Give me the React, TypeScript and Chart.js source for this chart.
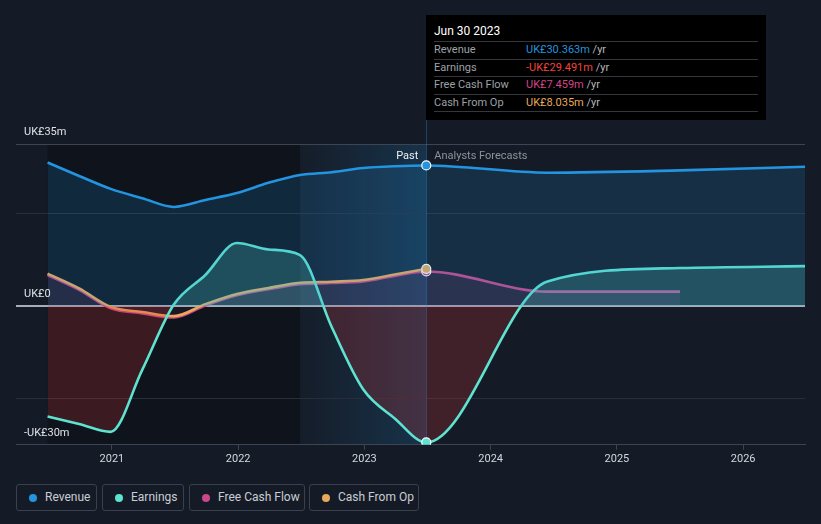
import React, { useEffect, useRef } from "react";
import { Chart, registerables } from "chart.js";
Chart.register(...registerables);

// ---- data ----
const pastDates = [2020.49, 2020.74, 2020.99, 2021.24, 2021.49, 2021.74, 2021.99, 2022.24, 2022.49, 2022.74, 2022.99, 2023.24, 2023.49];
const revenuePast = [31.0, 28.1, 25.3, 23.3, 21.4, 22.9, 24.4, 26.6, 28.3, 28.9, 29.8, 30.2, 30.363];
const earningsPast = [-23.9, -25.5, -27.2, -13.8, 0.3, 6.7, 13.6, 12.2, 11.0, -4.5, -18.0, -24.3, -29.491];
const fcfPast = [6.7, 3.5, -0.5, -1.6, -2.5, 0.1, 2.3, 3.6, 4.7, 4.95, 5.3, 6.5, 7.459];
const cfoPast = [7.0, 3.8, -0.2, -1.3, -2.2, 0.4, 2.6, 3.9, 5.0, 5.25, 5.6, 6.8, 8.035];

const forecastDates = [2024.45, 2025.5, 2026.49];
const revenueForecast = [28.8, 29.3, 30.1];
const earningsForecast = [5.3, 8.2, 8.6];
const fcfForecastDates = [2024.45, 2025.5];
const fcfForecast = [3.1, 3.1];

const yearTicks = [2021, 2022, 2023, 2024, 2025, 2026];
const yGridValues = [-30, -20, 0, 20, 35];
const yLabels = [
  { value: 35, text: "UK£35m" },
  { value: 0, text: "UK£0" },
  { value: -30, text: "-UK£30m" },
];

const tooltipTitle = "Jun 30 2023";
const tooltipRows = [
  { label: "Revenue", value: "UK£30.363m", color: "#2394df" },
  { label: "Earnings", value: "-UK£29.491m", color: "#f2433d" },
  { label: "Free Cash Flow", value: "UK£7.459m", color: "#d0468c" },
  { label: "Cash From Op", value: "UK£8.035m", color: "#e8a95a" },
];

const legendItems = [
  { label: "Revenue", color: "#2394df", left: 16, width: 81 },
  { label: "Earnings", color: "#5de3cf", left: 102, width: 82 },
  { label: "Free Cash Flow", color: "#c9478a", left: 189, width: 116 },
  { label: "Cash From Op", color: "#e8a95a", left: 309, width: 110 },
];

const COL = {
  revenue: "#2394df",
  earnings: "#5de3cf",
  fcf: "#c9478a",
  cfo: "#e8a95a",
};

const FONT = "Roboto, 'Open Sans', sans-serif";

function pts(xs: number[], ys: number[]) {
  return xs.map((x, i) => ({ x, y: ys[i] }));
}

const lastIdx = pastDates.length - 1;
const lastPast = pastDates[lastIdx];

const bgPlugin = {
  id: "bgPlugin",
  beforeDraw(chart: any) {
    const { ctx, chartArea: a, scales } = chart;
    const x = scales.x;
    const x0 = x.getPixelForValue(pastDates[0]);
    const xh = x.getPixelForValue(lastPast - 1);
    const xe = x.getPixelForValue(lastPast);
    ctx.save();
    ctx.fillStyle = "rgba(6,8,12,0.38)";
    ctx.fillRect(x0, a.top, xh - x0, a.bottom - a.top);
    const g = ctx.createLinearGradient(xh, 0, xe, 0);
    g.addColorStop(0, "rgba(35,148,223,0.02)");
    g.addColorStop(1, "rgba(35,148,223,0.2)");
    ctx.fillStyle = g;
    ctx.fillRect(xh, a.top, xe - xh, a.bottom - a.top);
    ctx.restore();
  },
  beforeDatasetsDraw(chart: any) {
    const { ctx, chartArea: a, scales } = chart;
    const xe = Math.round(scales.x.getPixelForValue(lastPast)) + 0.5;
    ctx.save();
    ctx.strokeStyle = "rgba(35,148,223,0.35)";
    ctx.lineWidth = 1;
    ctx.beginPath();
    ctx.moveTo(xe, 120);
    ctx.lineTo(xe, a.bottom);
    ctx.stroke();
    ctx.restore();
  },
  afterDraw(chart: any) {
    const { ctx, chartArea: a, scales } = chart;
    const y = scales.y;
    const xe = scales.x.getPixelForValue(lastPast);
    ctx.save();
    ctx.font = `11px ${FONT}`;
    ctx.textBaseline = "middle";
    ctx.fillStyle = "#dfe2e6";
    ctx.textAlign = "left";
    yLabels.forEach((l) => {
      ctx.fillText(l.text, a.left + 8, y.getPixelForValue(l.value) - 12);
    });
    const ty = y.getPixelForValue(35) + 12;
    ctx.textAlign = "right";
    ctx.fillStyle = "#eef0f2";
    ctx.fillText("Past", xe - 8, ty);
    ctx.textAlign = "left";
    ctx.fillStyle = "#8d929a";
    ctx.fillText("Analysts Forecasts", xe + 8, ty);
    ctx.restore();
  },
};

const dot = (c: any) => (c.dataIndex === lastIdx ? 4.5 : 0);

export default function App() {
  const ref = useRef<HTMLCanvasElement | null>(null);
  useEffect(() => {
    if (!ref.current) return;
    const chart = new Chart(ref.current, {
      type: "line",
      data: {
        datasets: [
          {
            label: "Revenue",
            data: pts([...pastDates, ...forecastDates], [...revenuePast, ...revenueForecast]),
            borderColor: COL.revenue,
            backgroundColor: COL.revenue,
            borderWidth: 2.6,
            fill: { target: "origin", above: "rgba(35,148,223,0.17)", below: "rgba(35,148,223,0.17)" },
            cubicInterpolationMode: "monotone",
            pointRadius: dot,
            pointBackgroundColor: COL.revenue,
            pointBorderColor: "#ffffff",
            pointBorderWidth: 1.2,
            order: 1,
          },
          {
            label: "Earnings",
            data: pts([...pastDates, ...forecastDates], [...earningsPast, ...earningsForecast]),
            borderColor: COL.earnings,
            backgroundColor: COL.earnings,
            borderWidth: 2.6,
            fill: { target: "origin", above: "rgba(93,227,207,0.22)", below: "rgba(205,50,55,0.24)" },
            cubicInterpolationMode: "monotone",
            pointRadius: dot,
            pointBackgroundColor: COL.earnings,
            pointBorderColor: "#ffffff",
            pointBorderWidth: 1.2,
            order: 2,
          },
          {
            label: "Cash From Op",
            data: pts(pastDates, cfoPast),
            borderColor: COL.cfo,
            backgroundColor: COL.cfo,
            borderWidth: 2.6,
            fill: false,
            cubicInterpolationMode: "monotone",
            pointRadius: dot,
            pointBackgroundColor: COL.cfo,
            pointBorderColor: "#ffffff",
            pointBorderWidth: 1.2,
            order: 3,
          },
          {
            label: "Free Cash Flow",
            data: pts([...pastDates, ...fcfForecastDates], [...fcfPast, ...fcfForecast]),
            borderColor: COL.fcf,
            backgroundColor: COL.fcf,
            borderWidth: 2.6,
            fill: { target: "origin", above: "rgba(201,71,138,0.13)", below: "rgba(201,71,138,0.08)" },
            cubicInterpolationMode: "monotone",
            pointRadius: dot,
            pointBackgroundColor: COL.fcf,
            pointBorderColor: "#ffffff",
            pointBorderWidth: 1.2,
            order: 4,
          },
        ],
      },
      options: {
        responsive: false,
        animation: false,
        devicePixelRatio: 1,
        events: [],
        layout: { padding: { left: 16, right: 16, top: 144, bottom: 1 } },
        plugins: { legend: { display: false }, tooltip: { enabled: false } },
        scales: {
          x: {
            type: "linear",
            min: 2020.24,
            max: 2026.49,
            afterBuildTicks: (s: any) => {
              s.ticks = yearTicks.map((v) => ({ value: v }));
            },
            grid: { display: true, drawOnChartArea: false, drawTicks: true, tickLength: 5, color: "#3d4452" },
            border: { display: true, color: "#3d4452", width: 1 },
            ticks: {
              color: "#d4d7dc",
              font: { family: FONT, size: 11 },
              padding: 3,
              autoSkip: false,
              maxRotation: 0,
              callback: (v: any) => String(v),
            },
          },
          y: {
            type: "linear",
            min: -30,
            max: 35,
            afterBuildTicks: (s: any) => {
              s.ticks = yGridValues.map((v) => ({ value: v }));
            },
            ticks: { display: false },
            border: { display: false },
            grid: {
              drawTicks: false,
              color: (c: any) =>
                c.tick && c.tick.value === 0
                  ? "#a9aeb6"
                  : c.tick && (c.tick.value === 35 || c.tick.value === -30)
                  ? "#3d4452"
                  : "#272e3a",
              lineWidth: (c: any) => (c.tick && c.tick.value === 0 ? 2 : 1),
            },
          },
        },
      },
      plugins: [bgPlugin],
    } as any);
    return () => chart.destroy();
  }, []);

  return (
    <div
      style={{
        position: "fixed",
        left: 0,
        top: 0,
        width: 821,
        height: 524,
        background: "#151b26",
        fontFamily: FONT,
        overflow: "hidden",
      }}
    >
      <canvas ref={ref} width={821} height={470} style={{ position: "absolute", left: 0, top: 0, width: 821, height: 470 }} />
      <div
        style={{
          position: "absolute",
          left: 426,
          top: 15,
          width: 340,
          height: 105,
          background: "#000000",
          fontSize: 11,
        }}
      >
        <div style={{ position: "absolute", left: 8, top: 9, lineHeight: "14px", color: "#ffffff", fontSize: 12 }}>{tooltipTitle}</div>
        {[0, 1, 2, 3, 4].map((i) => (
          <div
            key={"s" + i}
            style={{ position: "absolute", left: 8, top: 26 + i * 17.5, width: 324, height: 1, background: "#34373c" }}
          />
        ))}
        {tooltipRows.map((r, i) => (
          <div
            key={r.label}
            style={{ position: "absolute", left: 0, top: 27 + i * 17.5, height: 16.5, lineHeight: "16.5px", width: 340 }}
          >
            <span style={{ position: "absolute", left: 8, color: "#9da1a8" }}>{r.label}</span>
            <span style={{ position: "absolute", left: 100, color: r.color, whiteSpace: "nowrap" }}>
              {r.value}
              <span style={{ color: "#b4b8be" }}> /yr</span>
            </span>
          </div>
        ))}
      </div>
      {legendItems.map((l) => (
        <div
          key={l.label}
          style={{
            position: "absolute",
            left: l.left,
            top: 484,
            width: l.width,
            height: 27,
            boxSizing: "border-box",
            border: "1px solid #3a404c",
            borderRadius: 3,
            fontSize: 12,
            color: "#c9cdd3",
          }}
        >
          <span
            style={{
              position: "absolute",
              left: 12,
              top: 8.5,
              width: 8,
              height: 8,
              borderRadius: 4,
              background: l.color,
            }}
          />
          <span style={{ position: "absolute", left: 28, top: 0, lineHeight: "25px", whiteSpace: "nowrap" }}>{l.label}</span>
        </div>
      ))}
    </div>
  );
}
